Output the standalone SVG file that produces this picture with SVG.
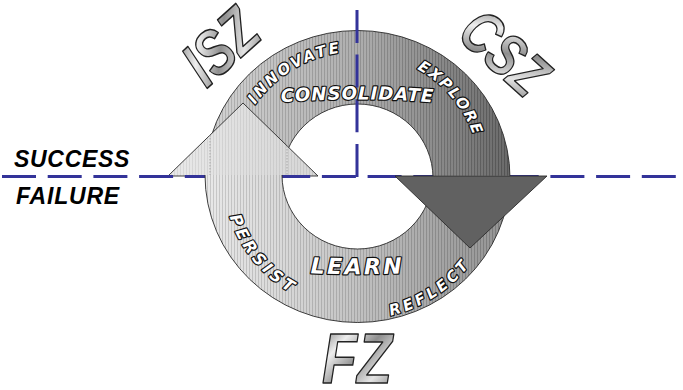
<svg xmlns="http://www.w3.org/2000/svg" xmlns:xlink="http://www.w3.org/1999/xlink" width="683" height="390" viewBox="0 0 683 390">
<style>
.edge{fill:none;stroke:#2a2a2a;stroke-width:0.9}
.axis{fill:none;stroke:#333399;stroke-width:3}
.lbl{font-family:"DejaVu Sans","Liberation Sans",sans-serif;font-weight:bold;font-style:oblique;fill:#fff;stroke:#111;stroke-width:2.4;paint-order:stroke;stroke-linejoin:round}
.side{font-family:"Liberation Sans",Arial,sans-serif;font-weight:bold;font-style:italic;fill:#000}
.big{font-family:"Liberation Sans",Arial,sans-serif;font-weight:bold;font-style:italic;fill:url(#metal);stroke:#222;stroke-width:1.5;stroke-linejoin:round}
</style>
<defs>
<linearGradient id="gU" gradientUnits="userSpaceOnUse" x1="205" y1="0" x2="510" y2="0">
<stop offset="0" stop-color="#d0d0d0"/><stop offset="0.5" stop-color="#a8a8a8"/><stop offset="0.75" stop-color="#848484"/><stop offset="1" stop-color="#5e5e5e"/>
</linearGradient>
<linearGradient id="gL" gradientUnits="userSpaceOnUse" x1="205" y1="0" x2="510" y2="0">
<stop offset="0" stop-color="#e6e6e6"/><stop offset="0.25" stop-color="#d6d6d6"/><stop offset="0.5" stop-color="#bdbdbd"/><stop offset="0.75" stop-color="#a0a0a0"/><stop offset="1" stop-color="#8a8a8a"/>
</linearGradient>
<linearGradient id="gA" gradientUnits="userSpaceOnUse" x1="168" y1="0" x2="318" y2="0">
<stop offset="0" stop-color="#e8e8e8"/><stop offset="1" stop-color="#d4d4d4"/>
</linearGradient>
<linearGradient id="metal" x1="0" y1="0" x2="1" y2="1">
<stop offset="0" stop-color="#5e5e5e"/><stop offset="0.28" stop-color="#eeeeee"/><stop offset="0.5" stop-color="#8e8e8e"/><stop offset="0.72" stop-color="#e4e4e4"/><stop offset="1" stop-color="#6a6a6a"/>
</linearGradient>
<pattern id="str" width="3" height="4" patternUnits="userSpaceOnUse">
<rect width="1" height="4" fill="#000" fill-opacity="0.13"/><rect x="1.6" width="0.9" height="4" fill="#fff" fill-opacity="0.15"/>
</pattern>
<path id="pInnovate" d="M 244.2,123.7 A 125 125 0 0 1 364,51.7"/>
<path id="pExplore" d="M 399.6,60.9 A 123 123 0 0 1 478.6,155.1"/>
<path id="pConsol" d="M 262,104 A 1000 1000 0 0 1 453,104"/>
<path id="pPersist" d="M 225.5,199.8 A 134 134 0 0 0 309.5,301.6"/>
<path id="pLearn" d="M 290,272 A 1000 1000 0 0 0 425,272"/>
<path id="pReflect" d="M 365,319.3 A 143 143 0 0 0 484.9,241.4"/>
</defs>
<rect width="683" height="390" fill="#fff"/>

<g id="ring-upper">
<path d="M 205,178 A 152.5 147.5 0 1 1 510,178 L 433,178 A 75.5 74 0 1 0 282,178 Z" fill="url(#gU)"/>
<path d="M 205,178 A 152.5 147.5 0 1 1 510,178 L 433,178 A 75.5 74 0 1 0 282,178 Z" class="edge" style="fill:url(#str)"/>
</g>

<g id="arrow-up">
<polygon points="168,176 318,176 243,103" fill="url(#gA)"/>
<polygon points="168,176 318,176 243,103" class="edge" style="fill:url(#str);fill-opacity:0.5"/>
<path d="M 210,135 V 176 M 287,146 V 176" stroke="#9a9a9a" stroke-width="0.8" stroke-dasharray="1.5 1.5" fill="none"/>
</g>

<g id="connectors">
<line class="axis" x1="2" y1="176.5" x2="683" y2="176.5" stroke-dasharray="34 11.7"/>
<line class="axis" x1="357" y1="177" x2="357" y2="8" stroke-dasharray="33 11.7"/>
</g>

<g id="ring-lower">
<path d="M 205,175 A 152.5 147.5 0 1 0 510,175 L 433,175 A 75.5 74 0 1 1 282,175 Z" fill="url(#gL)"/>
<path d="M 205,175 A 152.5 147.5 0 1 0 510,175 L 433,175 A 75.5 74 0 1 1 282,175 Z" fill="url(#str)"/>
<path class="edge" d="M 205,175 A 152.5 147.5 0 1 0 510,175 M 433,175 A 75.5 74 0 1 1 282,175"/>
</g>

<g id="arrow-down">
<polygon points="395,176 547,176 470,248" fill="#616161" stroke="#2a2a2a" stroke-width="0.9"/>
</g>

<g id="ring-labels">
<text class="lbl" font-size="15" letter-spacing="2.5"><textPath href="#pInnovate" startOffset="50%" text-anchor="middle">INNOVATE</textPath></text>
<text class="lbl" font-size="15" letter-spacing="2"><textPath href="#pExplore" startOffset="50%" text-anchor="middle">EXPLORE</textPath></text>
<text class="lbl" font-size="18" letter-spacing="1"><textPath href="#pConsol" startOffset="50%" text-anchor="middle">CONSOLIDATE</textPath></text>
<text class="lbl" font-size="16" letter-spacing="4"><textPath href="#pPersist" startOffset="50%" text-anchor="middle">PERSIST</textPath></text>
<text class="lbl" font-size="22" letter-spacing="2.5"><textPath href="#pLearn" startOffset="50%" text-anchor="middle">LEARN</textPath></text>
<text class="lbl" font-size="15" letter-spacing="3.5"><textPath href="#pReflect" startOffset="50%" text-anchor="middle">REFLECT</textPath></text>
</g>

<g id="side-labels">
<text class="side" x="14" y="167" font-size="23" letter-spacing="0.7">SUCCESS</text>
<text class="side" x="16" y="204" font-size="23" letter-spacing="0.8">FAILURE</text>
</g>

<g id="zone-ISZ" transform="translate(220,46) rotate(-42) scale(0.78,1)">
<text class="big" x="0" y="23" font-size="64" text-anchor="middle">ISZ</text>
</g>
<g id="zone-CSZ" transform="translate(505,52) rotate(42) scale(0.74,0.95)">
<text class="big" x="0" y="23" font-size="64" text-anchor="middle">CSZ</text>
</g>
<g id="zone-FZ" transform="translate(357,383) scale(0.82,1)">
<text class="big" x="0" y="0" font-size="70" text-anchor="middle">FZ</text>
</g>
</svg>
